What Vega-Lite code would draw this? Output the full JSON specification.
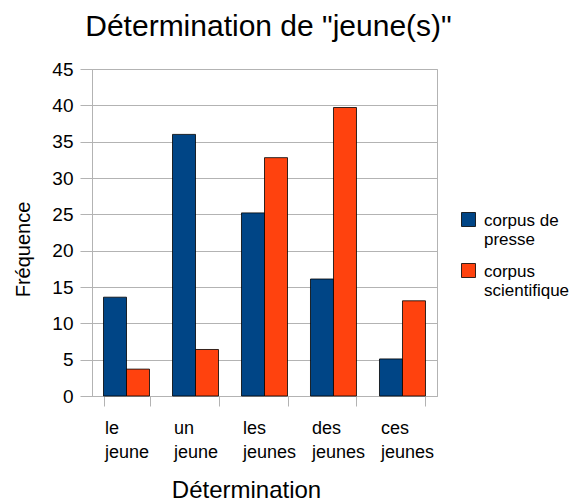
{
  "$schema": "https://vega.github.io/schema/vega-lite/v6.json",
  "width": 345,
  "height": 327,
  "autosize": {"type": "none"},
  "padding": {"left": 92, "top": 69, "right": 141, "bottom": 106},
  "background": "white",
  "title": {
    "text": "Détermination de \"jeune(s)\"",
    "fontSize": 30,
    "fontWeight": "normal",
    "color": "black",
    "anchor": "middle",
    "dx": 4,
    "frame": "group",
    "baseline": "alphabetic",
    "offset": -6
  },
  "data": {
    "values": [
      {"det": "le jeune", "corpus": "corpus de presse", "freq": 13.6},
      {"det": "le jeune", "corpus": "corpus scientifique", "freq": 3.7},
      {"det": "un jeune", "corpus": "corpus de presse", "freq": 36.0},
      {"det": "un jeune", "corpus": "corpus scientifique", "freq": 6.4},
      {"det": "les jeunes", "corpus": "corpus de presse", "freq": 25.2},
      {"det": "les jeunes", "corpus": "corpus scientifique", "freq": 32.8},
      {"det": "des jeunes", "corpus": "corpus de presse", "freq": 16.1},
      {"det": "des jeunes", "corpus": "corpus scientifique", "freq": 39.7},
      {"det": "ces jeunes", "corpus": "corpus de presse", "freq": 5.1},
      {"det": "ces jeunes", "corpus": "corpus scientifique", "freq": 13.1}
    ]
  },
  "mark": {"type": "bar", "stroke": "black", "strokeWidth": 0.8},
  "encoding": {
    "x": {
      "field": "det",
      "type": "nominal",
      "sort": ["le jeune", "un jeune", "les jeunes", "des jeunes", "ces jeunes"],
      "scale": {"paddingInner": 0.3333, "paddingOuter": 0.1667},
      "axis": {
        "title": "Détermination",
        "titleFontSize": 24,
        "titleFontWeight": "normal",
        "titleColor": "black",
        "titleBaseline": "alphabetic",
        "titleX": 154,
        "titleY": 101,
        "labelAngle": 0,
        "labelAlign": "left",
        "labelOffset": -22,
        "labelBaseline": "top",
        "labelFontSize": 18,
        "labelColor": "black",
        "labelLineHeight": 24,
        "labelPadding": 13,
        "labelExpr": "split(datum.label, ' ')",
        "tickBand": "extent",
        "tickSize": 10,
        "tickColor": "#b3b3b3",
        "domainColor": "#b3b3b3",
        "grid": false
      }
    },
    "xOffset": {"field": "corpus", "type": "nominal"},
    "y": {
      "field": "freq",
      "type": "quantitative",
      "scale": {"domain": [0, 45], "nice": false},
      "axis": {
        "title": "Fréquence",
        "titleFontSize": 20,
        "titleFontWeight": "normal",
        "titleColor": "black",
        "titleBaseline": "alphabetic",
        "titleAlign": "center",
        "titleX": -63,
        "titleY": 180,
        "values": [0, 5, 10, 15, 20, 25, 30, 35, 40, 45],
        "labelFontSize": 19,
        "labelColor": "black",
        "labelPadding": 7,
        "tickSize": 12,
        "tickColor": "#b3b3b3",
        "domainColor": "#b3b3b3",
        "grid": true,
        "gridColor": "#b3b3b3"
      }
    },
    "color": {
      "field": "corpus",
      "type": "nominal",
      "scale": {
        "domain": ["corpus de presse", "corpus scientifique"],
        "range": ["#004586", "#ff420e"]
      },
      "legend": {
        "title": null,
        "orient": "none",
        "legendX": 368,
        "legendY": 135,
        "padding": 0,
        "symbolType": "M-1,0H1V2H-1Z",
        "symbolSize": 196,
        "symbolStrokeColor": "black",
        "symbolStrokeWidth": 0.8,
        "labelFontSize": 17,
        "labelColor": "black",
        "labelLineHeight": 23,
        "labelBaseline": "top",
        "labelOffset": 7,
        "rowPadding": 7,
        "labelExpr": "datum.label == 'corpus de presse' ? ['corpus de', 'presse'] : ['corpus', 'scientifique']"
      }
    }
  },
  "config": {
    "font": "Liberation Sans",
    "view": {"stroke": "#b3b3b3"},
    "axis": {"labelFont": "Liberation Sans", "titleFont": "Liberation Sans"}
  }
}
